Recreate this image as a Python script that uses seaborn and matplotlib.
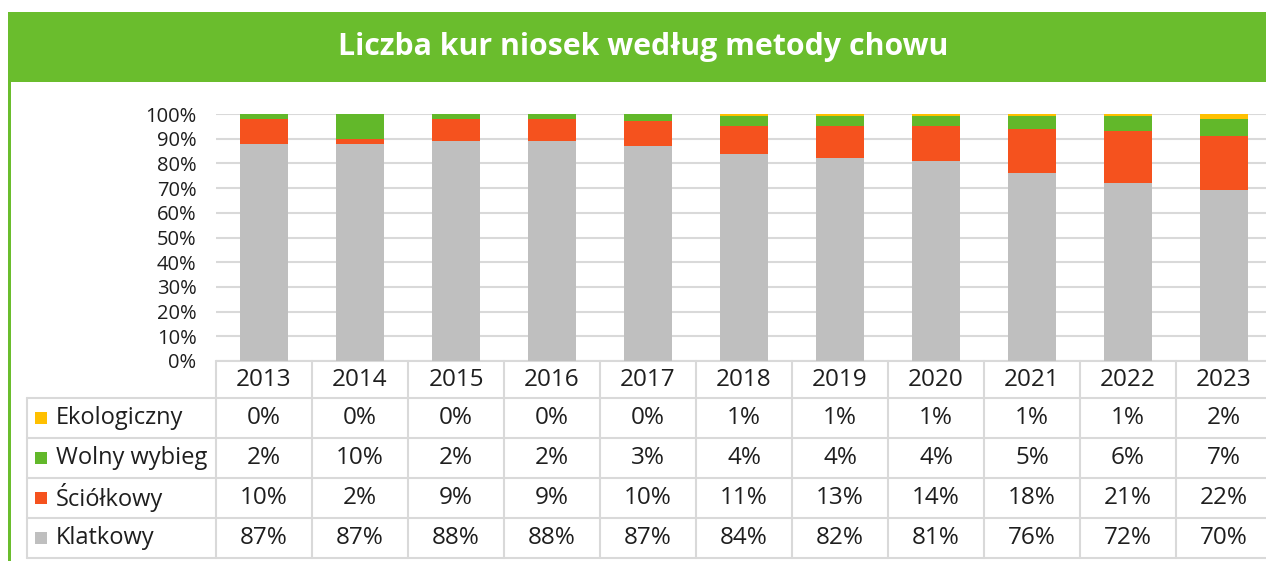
import numpy as np
import pandas as pd
import matplotlib.pyplot as plt
import seaborn as sns
from matplotlib.patches import Rectangle

years = ['2013', '2014', '2015', '2016', '2017', '2018', '2019', '2020', '2021', '2022', '2023']
series = ['Ekologiczny', 'Wolny wybieg', 'Ściółkowy', 'Klatkowy']
ekologiczny = [0, 0, 0, 0, 0, 1, 1, 1, 1, 1, 2]
wolny_wybieg = [2, 10, 2, 2, 3, 4, 4, 4, 5, 6, 7]
sciolkowy = [10, 2, 9, 9, 10, 11, 13, 14, 18, 21, 22]
klatkowy = [87, 87, 88, 88, 87, 84, 82, 81, 76, 72, 70]
colors = {'Ekologiczny': '#FFC000', 'Wolny wybieg': '#62B82A',
          'Ściółkowy': '#F5521E', 'Klatkowy': '#BFBFBF'}

df = pd.DataFrame({'year': years, 'Ekologiczny': ekologiczny, 'Wolny wybieg': wolny_wybieg,
                   'Ściółkowy': sciolkowy, 'Klatkowy': klatkowy})
total = df[series].sum(axis=1)
# 100% stacked like in Excel
pct = df[series].div(total, axis=0) * 100

sns.set_theme(style='white')
plt.rcParams['font.family'] = ['Open Sans', 'DejaVu Sans']

W, H = 1266, 561
fig = plt.figure(figsize=(W / 100, H / 100), dpi=100)
fig.patch.set_facecolor('white')

# pixel overlay for banner and table
bg = fig.add_axes([0, 0, 1, 1])
bg.set_xlim(0, W)
bg.set_ylim(H, 0)
bg.axis('off')
green = '#6ABD2D'
bg.add_patch(Rectangle((8, 12), W - 8, 70, color=green, lw=0))
bg.add_patch(Rectangle((8, 82), 3, H - 82, color=green, lw=0))
bg.text(643, 47, 'Liczba kur niosek według metody chowu', color='white',
        fontsize=21.8, fontweight='bold', ha='center', va='center')

x0, cw = 216, 96
rows_y = [398, 438, 478, 518, 558]
lc = '#D9D9D9'
txt = '#1E1E1E'
fs = 17.5
bg.plot([x0, W], [361, 361], color=lc, lw=1.5)
for y in rows_y:
    bg.plot([27, W], [y, y], color=lc, lw=1.5)
bg.plot([27, 27], [398, 558], color=lc, lw=1.5)
for k in range(len(years)):
    xx = x0 + cw * k
    bg.plot([xx, xx], [361, 558], color=lc, lw=1.5)
    bg.text(xx + cw / 2, 380, years[k], ha='center', va='center', fontsize=fs, color=txt)

for r, name in enumerate(series):
    yc = rows_y[r] + 20
    bg.add_patch(Rectangle((35, yc - 6), 12, 12, color=colors[name], lw=0))
    bg.text(56, yc, name, ha='left', va='center', fontsize=fs - 0.5, color=txt)
    for k, v in enumerate(df[name]):
        bg.text(x0 + cw * (k + 0.5), yc, f'{v}%', ha='center', va='center', fontsize=fs, color=txt)

# bar chart
ax = fig.add_axes([x0 / W, 1 - 361 / H, cw * len(years) / W, (361 - 114) / H])
ax.patch.set_alpha(0)
cum = pct[series[::-1]].cumsum(axis=1)
for name in series:
    sns.barplot(x=df['year'], y=cum[name], color=colors[name], width=0.51,
                saturation=1, linewidth=0, ax=ax, zorder=3)
ax.set_xlim(-0.5, len(years) - 0.5)
ax.set_ylim(0, 100)
ax.set_yticks(range(0, 101, 10))
ax.set_yticklabels([f'{v}%' for v in range(0, 101, 10)], fontsize=14.5, color=txt)
ax.set_xticks([])
ax.set_xlabel('')
ax.set_ylabel('')
ax.tick_params(axis='y', length=0, pad=14)
ax.grid(axis='y', color=lc, lw=1.5, zorder=0)
ax.set_axisbelow(True)
for s in ax.spines.values():
    s.set_visible(False)

fig.savefig('out.png', dpi=100)
